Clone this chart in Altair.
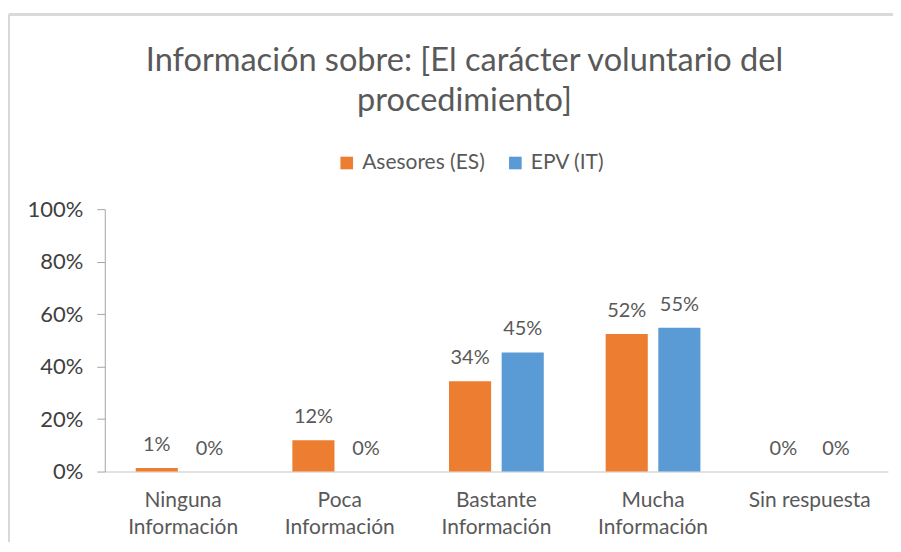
import altair as alt
import pandas as pd

categories = ["Ninguna Información", "Poca Información", "Bastante Información",
              "Mucha Información", "Sin respuesta"]
series = ["Asesores (ES)", "EPV (IT)"]
asesores = [0.014, 0.119, 0.344, 0.524, 0.0]
epv = [0.0, 0.0, 0.454, 0.548, 0.0]
y_ticks = [0, 0.2, 0.4, 0.6, 0.8, 1.0]
colors = ["#ED7D31", "#5B9BD5"]

rows = []
for c, a, e in zip(categories, asesores, epv):
    rows.append({"cat": c, "serie": series[0], "val": a})
    rows.append({"cat": c, "serie": series[1], "val": e})
df = pd.DataFrame(rows)

FONT = "Lato"
GRAY = "#595959"

x = alt.X("cat:N", sort=categories, title=None,
          scale=alt.Scale(paddingInner=0.395, paddingOuter=0.1975),
          axis=alt.Axis(labelAngle=0, labelFont=FONT, labelFontSize=21,
                        labelColor=GRAY, labelLineHeight=27, labelPadding=18,
                        labelBaseline="top", ticks=False, domainColor="#d9d9d9",
                        domainWidth=1.5,
                        labelExpr="datum.label == 'Sin respuesta' ? datum.label : split(datum.label, ' ')"))
xo = alt.XOffset("serie:N", sort=series, scale=alt.Scale(paddingInner=0.2, paddingOuter=0))
y = alt.Y("val:Q", title=None,
          scale=alt.Scale(domain=[0, 1], nice=False),
          axis=alt.Axis(values=y_ticks, format=".0%", grid=False, labelFont=FONT,
                        labelFontSize=22, labelColor="#404040", tickSize=8,
                        tickColor="#a6a6a6", domainColor="#a6a6a6", labelPadding=14))
color = alt.Color("serie:N", sort=series, scale=alt.Scale(domain=series, range=colors),
                  legend=alt.Legend(title=None, orient="none", direction="horizontal",
                                    legendX=232, legendY=-57, symbolType="square",
                                    symbolSize=160, symbolStrokeWidth=0,
                                    labelFont=FONT, labelFontSize=21, labelColor=GRAY,
                                    columnPadding=20, labelOffset=5))

bars = alt.Chart(df).mark_bar().encode(x=x, xOffset=xo, y=y, color=color)
labels = alt.Chart(df).mark_text(font=FONT, fontSize=20, color=GRAY, dy=-23,
                                 baseline="middle").encode(
    x=alt.X("cat:N", sort=categories), xOffset=alt.XOffset("serie:N", sort=series),
    y="val:Q", text=alt.Text("val:Q", format=".0%"))

border_top = alt.Chart(df).mark_rule(color="#d9d9d9", strokeWidth=2).encode(
    x=alt.value(-96), x2=alt.value(790), y=alt.value(-195))
border_left = alt.Chart(df).mark_rule(color="#d9d9d9", strokeWidth=2).encode(
    x=alt.value(-96), y=alt.value(-195), y2=alt.value(340))

chart = alt.layer(border_top, border_left, bars, labels).properties(
    width=785, height=263,
    padding={"left": 97, "top": 201, "right": 5, "bottom": 70},
    autosize=alt.AutoSizeParams(type="none"),
    title=alt.TitleParams(
        text=["Información sobre: [El carácter voluntario del", "procedimiento]"],
        font=FONT, fontSize=32.6, fontWeight="normal", color=GRAY, anchor="middle",
        frame="group", dx=-32, dy=104, lineHeight=40, offset=0),
).configure_view(stroke=None)

chart.save("out.html", embed_options={"renderer": "svg", "actions": False})
